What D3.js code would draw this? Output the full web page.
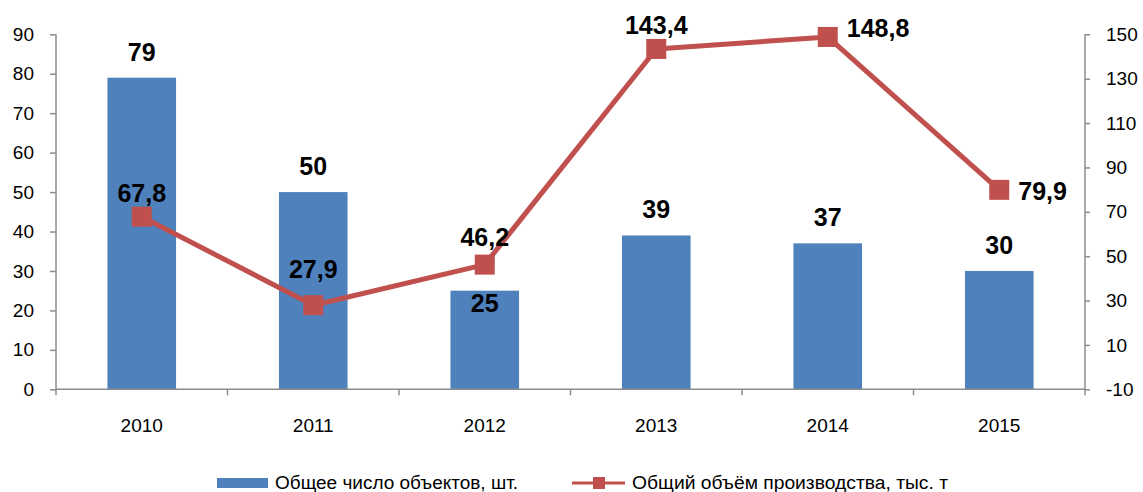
<!DOCTYPE html>
<html lang="ru">
<head>
<meta charset="UTF-8">
<script src="https://d3js.org/d3.v7.min.js"></script>
<title>Объекты и объём производства</title>
<style>
    body { margin: 0; padding: 0; background: #fff; }
    svg { display: block; font-family: "Liberation Sans", Arial, sans-serif; }
    .tick text { fill: #000; }
</style>
</head>
<body>
<div id="chart"></div>
<script>
    // данные
    let years = ["2010", "2011", "2012", "2013", "2014", "2015"]
    let objCount = [79, 50, 25, 39, 37, 30]
    let prodVolume = [67.8, 27.9, 46.2, 143.4, 148.8, 79.9]
    let leftTicks = [0, 10, 20, 30, 40, 50, 60, 70, 80, 90]
    let rightTicks = [-10, 10, 30, 50, 70, 90, 110, 130, 150]
    let barName = "Общее число объектов, шт."
    let lineName = "Общий объём производства, тыс. т"
    // где ставить подписи линии
    let lineLabelPos = ["top", "top", "top", "top", "right", "right"]

    let W = 1143, H = 492
    let m = { left: 56, right: 58, top: 34.3, bottom: 102.7 }
    let barColor = "#4F81BD", lineColor = "#C0504D", axisColor = "#8c8c8c"

    let svg = d3.select("#chart").append("svg")
        .attr("width", W).attr("height", H)

    let x = d3.scaleBand().domain(years)
        .range([m.left, W - m.right])
        .paddingInner(0.6).paddingOuter(0.3)
    let xCat = d3.scaleBand().domain(years).range([m.left, W - m.right])

    let yL = d3.scaleLinear().domain([0, 90]).range([H - m.bottom, m.top])
    let yR = d3.scaleLinear().domain([-10, 150]).range([H - m.bottom, m.top])

    // столбики
    svg.selectAll("rect.bar").data(objCount).enter().append("rect")
        .attr("class", "bar")
        .attr("x", (d, i) => x(years[i]))
        .attr("width", x.bandwidth())
        .attr("y", d => yL(d))
        .attr("height", d => yL(0) - yL(d))
        .attr("fill", barColor)

    // оси
    let axL = svg.append("g").attr("transform", "translate(" + m.left + ",0)")
        .call(d3.axisLeft(yL).tickValues(leftTicks).tickSize(6).tickPadding(16).tickFormat(d => String(d)))
    let axR = svg.append("g").attr("transform", "translate(" + (W - m.right) + ",0)")
        .call(d3.axisRight(yR).tickValues(rightTicks).tickSize(5).tickPadding(16).tickFormat(d => String(d)))
    let axX = svg.append("g").attr("transform", "translate(0," + yL(0) + ")")
        .call(d3.axisBottom(xCat).tickSize(0).tickPadding(29))
    // засечки между категориями
    axX.selectAll(".sep").data(d3.range(years.length + 1)).enter().append("line")
        .attr("class", "sep")
        .attr("x1", i => m.left + i * xCat.step()).attr("x2", i => m.left + i * xCat.step())
        .attr("y1", 0).attr("y2", 6)
        .attr("stroke", axisColor).attr("stroke-width", 1.5)

    ;[axL, axR, axX].forEach(a => {
        a.selectAll("path, line").attr("stroke", axisColor).attr("stroke-width", 1.5)
        a.selectAll("text").attr("font-size", 19).attr("font-family", "Liberation Sans, Arial, sans-serif")
    })
    axL.select(".domain").attr("d", "M0," + yL(90) + "V" + yL(0))
    axR.select(".domain").attr("d", "M0," + yR(150) + "V" + yR(-10))
    axX.select(".domain").attr("d", "M" + m.left + ",0H" + (W - m.right))

    // линия
    let cx = (d, i) => xCat(years[i]) + xCat.bandwidth() / 2
    let line = d3.line().x(cx).y(d => yR(d))
    svg.append("path").datum(prodVolume)
        .attr("d", line)
        .attr("fill", "none").attr("stroke", lineColor).attr("stroke-width", 5)
        .attr("stroke-linejoin", "round")
    svg.selectAll("rect.mk").data(prodVolume).enter().append("rect")
        .attr("class", "mk")
        .attr("x", (d, i) => cx(d, i) - 10).attr("y", d => yR(d) - 10)
        .attr("width", 20).attr("height", 20)
        .attr("fill", lineColor)

    let fmt = v => String(v).replace(".", ",")

    // подписи столбиков
    svg.selectAll("text.bl").data(objCount).enter().append("text")
        .attr("class", "bl")
        .attr("x", (d, i) => cx(d, i))
        .attr("y", (d, i) => i == 2 ? yL(d) + 21 : yL(d) - 17)
        .attr("text-anchor", "middle")
        .attr("font-size", 25).attr("font-weight", "bold")
        .text(d => d)

    // подписи линии
    svg.selectAll("text.ll").data(prodVolume).enter().append("text")
        .attr("class", "ll")
        .attr("x", (d, i) => lineLabelPos[i] == "right" ? cx(d, i) + 19 : cx(d, i))
        .attr("y", (d, i) => {
            if (lineLabelPos[i] == "right") return i == 4 ? yR(d) : yR(d) + 10
            if (i == 1) return yR(d) - 27
            if (i == 2) return yR(d) - 19
            return yR(d) - 15
        })
        .attr("text-anchor", (d, i) => lineLabelPos[i] == "right" ? "start" : "middle")
        .attr("font-size", 25).attr("font-weight", "bold")
        .text(d => fmt(d))

    // легенда
    let lg = svg.append("g")
    lg.append("rect").attr("x", 217).attr("y", 478).attr("width", 51).attr("height", 10).attr("fill", barColor)
    lg.append("text").attr("x", 275).attr("y", 489).attr("font-size", 18)
        .attr("textLength", 243).attr("lengthAdjust", "spacingAndGlyphs").text(barName)
    lg.append("line").attr("x1", 572).attr("x2", 625).attr("y1", 483).attr("y2", 483)
        .attr("stroke", lineColor).attr("stroke-width", 3)
    lg.append("rect").attr("x", 593).attr("y", 477).attr("width", 12).attr("height", 12).attr("fill", lineColor)
    lg.append("text").attr("x", 632).attr("y", 489).attr("font-size", 18)
        .attr("textLength", 316).attr("lengthAdjust", "spacingAndGlyphs").text(lineName)
</script>
</body>
</html>
